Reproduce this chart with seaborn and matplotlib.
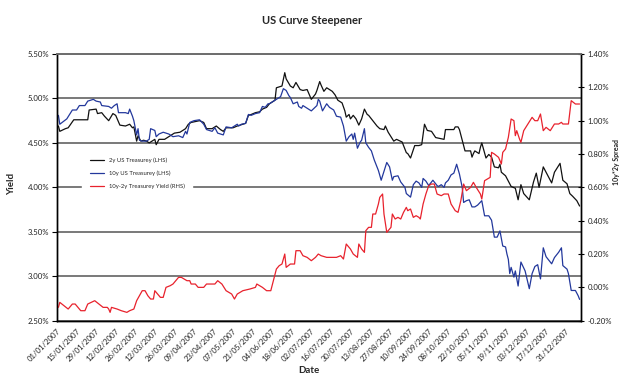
import pandas as pd
import matplotlib
matplotlib.use("Agg")
import matplotlib.pyplot as plt
import matplotlib.dates as mdates
from matplotlib.ticker import FuncFormatter, MultipleLocator
import seaborn as sns

START = pd.Timestamp("2007-01-01")

# 2y US Treasury yield (%), x = calendar days since 1 Jan 2007
days_2y = [1, 2, 6, 8, 12, 22, 23, 28, 29, 32, 34, 37, 40, 42, 45, 49, 52, 54, 55, 57,
           58, 60, 62, 64, 66, 68, 70, 71, 73, 77, 81, 84, 88, 92, 94, 96, 102, 105, 107, 111,
           114, 117, 119, 121, 124, 126, 129, 131, 135, 137, 139, 142, 145, 147, 150, 152, 155, 156, 157, 161,
           163, 164, 167, 169, 171, 174, 176, 179, 182, 185, 186, 188, 189, 191, 193, 197, 199, 201, 204, 206,
           207, 209, 210, 212, 214, 216, 218, 220, 222, 223, 225, 227, 229, 231, 234, 235, 237, 241, 243, 247,
           250, 251, 253, 256, 259, 261, 263, 265, 268, 271, 274, 277, 278, 284, 285, 287, 288, 290, 292, 294,
           296, 297, 298, 299, 302, 303, 304, 307, 309, 311, 313, 316, 317, 318, 321, 323, 325, 328, 330, 332,
           334, 338, 341, 343, 345, 348, 350, 354, 356, 360, 362, 365, 367, 369, 372, 374]
yield_2y = [4.69, 4.63, 4.66, 4.67, 4.76, 4.76, 4.87, 4.88, 4.83, 4.84, 4.80, 4.75, 4.83, 4.81, 4.70, 4.69, 4.71, 4.67, 4.68, 4.52,
            4.58, 4.52, 4.53, 4.52, 4.50, 4.52, 4.54, 4.48, 4.54, 4.54, 4.58, 4.61, 4.62, 4.66, 4.71, 4.73, 4.75, 4.73, 4.66, 4.66,
            4.69, 4.65, 4.63, 4.67, 4.67, 4.67, 4.69, 4.70, 4.72, 4.81, 4.82, 4.84, 4.85, 4.88, 4.90, 4.94, 4.97, 4.98, 5.12, 5.14,
            5.29, 5.22, 5.14, 5.12, 5.18, 5.10, 5.09, 5.10, 4.99, 5.05, 5.09, 5.19, 5.15, 5.08, 5.12, 5.08, 5.04, 4.98, 4.95, 4.86,
            4.79, 4.82, 4.77, 4.81, 4.77, 4.70, 4.77, 4.88, 4.82, 4.81, 4.77, 4.73, 4.69, 4.66, 4.65, 4.69, 4.62, 4.52, 4.54, 4.51,
            4.39, 4.38, 4.33, 4.47, 4.47, 4.48, 4.71, 4.64, 4.63, 4.56, 4.55, 4.54, 4.65, 4.65, 4.68, 4.68, 4.65, 4.53, 4.41, 4.41,
            4.41, 4.34, 4.38, 4.41, 4.38, 4.45, 4.50, 4.33, 4.37, 4.34, 4.23, 4.22, 4.26, 4.17, 4.13, 4.07, 4.01, 3.99, 3.86, 4.03,
            3.93, 3.86, 4.06, 4.16, 4.00, 4.23, 4.17, 4.05, 4.17, 4.27, 4.08, 4.04, 3.93, 3.90, 3.85, 3.79]

# 10y US Treasury yield (%)
days_10y = [1, 2, 7, 11, 14, 16, 20, 22, 26, 28, 31, 32, 37, 39, 41, 43, 44, 49, 51, 52,
            54, 55, 57, 58, 59, 61, 64, 66, 67, 70, 71, 73, 76, 80, 83, 87, 90, 92, 93, 95,
            98, 102, 105, 107, 111, 113, 115, 119, 121, 125, 129, 130, 132, 135, 137, 139, 142, 145, 147, 149,
            151, 152, 156, 160, 162, 164, 166, 167, 169, 172, 173, 175, 176, 179, 182, 186, 187, 188, 190, 193,
            195, 198, 200, 203, 205, 207, 209, 211, 212, 213, 215, 217, 218, 220, 221, 223, 225, 227, 230, 232,
            235, 236, 238, 240, 241, 244, 246, 249, 250, 253, 255, 257, 259, 261, 262, 264, 266, 268, 269, 272,
            273, 275, 277, 278, 280, 282, 284, 286, 288, 290, 291, 293, 295, 297, 299, 301, 304, 306, 309, 311,
            313, 315, 317, 319, 321, 322, 323, 324, 325, 327, 328, 330, 332, 335, 338, 340, 342, 344, 346, 348,
            350, 352, 354, 356, 359, 361, 362, 365, 366, 368, 371, 373, 374]
yield_10y = [4.81, 4.71, 4.77, 4.87, 4.87, 4.92, 4.92, 4.97, 4.99, 4.97, 4.96, 4.92, 4.91, 4.89, 4.92, 4.94, 4.84, 4.84, 4.83, 4.88,
             4.80, 4.75, 4.59, 4.66, 4.53, 4.52, 4.52, 4.54, 4.66, 4.64, 4.57, 4.60, 4.62, 4.60, 4.57, 4.58, 4.56, 4.63, 4.60, 4.73,
             4.75, 4.76, 4.71, 4.65, 4.63, 4.67, 4.61, 4.59, 4.68, 4.67, 4.71, 4.69, 4.71, 4.72, 4.82, 4.81, 4.83, 4.84, 4.91, 4.90,
             4.94, 4.94, 4.98, 5.02, 5.11, 5.09, 5.03, 5.01, 4.94, 4.96, 4.91, 4.89, 4.92, 4.89, 4.86, 4.92, 4.99, 4.97, 4.86, 4.94,
             4.90, 4.87, 4.80, 4.79, 4.69, 4.52, 4.57, 4.60, 4.54, 4.61, 4.44, 4.51, 4.53, 4.66, 4.50, 4.45, 4.41, 4.31, 4.19, 4.08,
             4.23, 4.28, 4.23, 4.08, 4.12, 4.13, 4.06, 4.00, 3.93, 3.89, 4.03, 4.07, 4.05, 4.00, 4.10, 4.07, 4.02, 4.06, 4.08, 4.02,
             4.01, 4.03, 4.00, 4.05, 4.08, 4.14, 4.16, 4.26, 4.15, 4.00, 3.83, 3.85, 3.86, 3.78, 3.78, 3.80, 3.85, 3.68, 3.68, 3.63,
             3.44, 3.44, 3.51, 3.34, 3.33, 3.25, 3.19, 3.03, 3.10, 2.99, 3.06, 2.89, 3.16, 3.06, 2.86, 3.03, 3.11, 3.13, 2.97, 3.32,
             3.22, 3.18, 3.14, 3.21, 3.27, 3.32, 3.12, 3.08, 3.03, 2.84, 2.84, 2.78, 2.74]

# 10y-2y spread (%), right-hand scale
days_spread = [1, 2, 5, 8, 11, 13, 17, 20, 22, 27, 30, 33, 36, 37, 38, 39, 43, 46, 50, 52,
               55, 57, 61, 63, 65, 67, 69, 70, 72, 74, 76, 78, 81, 83, 87, 89, 93, 95, 96, 99,
               101, 105, 107, 110, 113, 115, 118, 121, 125, 127, 129, 133, 138, 142, 143, 147, 150, 153, 157, 159,
               161, 163, 164, 167, 170, 171, 174, 176, 179, 182, 185, 187, 189, 193, 195, 198, 200, 203, 205, 207,
               210, 212, 215, 216, 218, 220, 221, 223, 225, 226, 228, 230, 231, 233, 234, 236, 237, 239, 240, 242,
               244, 246, 248, 250, 251, 253, 255, 257, 259, 260, 262, 264, 266, 268, 270, 272, 275, 277, 279, 280,
               282, 285, 287, 289, 291, 293, 296, 298, 300, 303, 304, 306, 308, 310, 311, 313, 316, 318, 319, 321,
               323, 325, 327, 328, 329, 331, 332, 334, 337, 340, 342, 344, 346, 348, 350, 353, 356, 359, 361, 362,
               365, 366, 368, 371, 373, 374]
spread = [-0.12, -0.09, -0.11, -0.13, -0.10, -0.10, -0.14, -0.14, -0.10, -0.08, -0.10, -0.12, -0.12, -0.13, -0.15, -0.12, -0.13, -0.14, -0.15, -0.14,
          -0.13, -0.08, -0.02, -0.02, -0.05, -0.07, -0.07, -0.02, -0.04, -0.06, -0.06, 0.00, 0.01, 0.02, 0.06, 0.06, 0.04, 0.04, 0.02, 0.02,
          0.00, 0.00, 0.02, 0.02, 0.02, 0.04, 0.02, -0.02, -0.04, -0.07, -0.04, -0.02, -0.01, 0.00, 0.02, 0.00, -0.02, -0.02, 0.11, 0.13,
          0.14, 0.20, 0.12, 0.14, 0.14, 0.22, 0.22, 0.19, 0.18, 0.16, 0.18, 0.20, 0.19, 0.18, 0.18, 0.18, 0.18, 0.19, 0.17, 0.26,
          0.23, 0.20, 0.18, 0.26, 0.23, 0.21, 0.34, 0.36, 0.36, 0.44, 0.44, 0.50, 0.54, 0.56, 0.44, 0.33, 0.34, 0.36, 0.44, 0.41,
          0.42, 0.41, 0.45, 0.48, 0.46, 0.47, 0.42, 0.43, 0.42, 0.41, 0.50, 0.56, 0.61, 0.62, 0.62, 0.56, 0.55, 0.56, 0.56, 0.56,
          0.50, 0.46, 0.45, 0.52, 0.62, 0.58, 0.60, 0.63, 0.60, 0.56, 0.53, 0.64, 0.65, 0.66, 0.81, 0.80, 0.78, 0.74, 0.81, 0.83,
          0.90, 1.01, 1.00, 0.91, 0.94, 0.89, 0.87, 0.94, 0.98, 1.02, 1.00, 1.00, 1.04, 0.94, 0.96, 0.94, 0.98, 0.98, 0.99, 0.98,
          0.98, 0.98, 1.12, 1.10, 1.10, 1.10]

to_dates = lambda d: START + pd.to_timedelta(d, unit="D")

BLACK, BLUE, RED = "#111111", "#23389c", "#e8222d"
GRID = "#6e6e6e"

sns.set_style("white")
plt.rcParams["font.family"] = ["Lato", "DejaVu Sans"]

fig = plt.figure(figsize=(6.25, 3.74), dpi=100)
ax = fig.add_axes([57 / 625, 1 - 320.7 / 374, (581 - 57) / 625, (320.7 - 54) / 374])
ax2 = ax.twinx()

sns.lineplot(x=to_dates(days_2y), y=yield_2y, ax=ax, color=BLACK, lw=0.9,
             label="2y US Treasurey (LHS)", legend=False)
sns.lineplot(x=to_dates(days_10y), y=yield_10y, ax=ax, color=BLUE, lw=0.9,
             label="10y US Treasurey (LHS)", legend=False)
sns.lineplot(x=to_dates(days_spread), y=spread, ax=ax2, color=RED, lw=0.9,
             label="10y-2y Treasurey Yield (RHS)", legend=False)

# left scale
ax.set_ylim(2.5, 5.5)
ax.yaxis.set_major_locator(MultipleLocator(0.5))
ax.yaxis.set_major_formatter(FuncFormatter(lambda v, _: f"{v:.2f}%"))
ax.grid(axis="y", color=GRID, lw=1.3)
ax.grid(axis="x", visible=False)

# right scale
ax2.set_ylim(-0.2, 1.4)
ax2.yaxis.set_major_locator(MultipleLocator(0.2))
ax2.yaxis.set_major_formatter(FuncFormatter(lambda v, _: f"{v:.2f}%"))
ax2.grid(False)

# date axis, ticks every two weeks
ax.set_xlim(START, pd.Timestamp("2008-01-11"))
ticks = pd.date_range("2007-01-01", "2007-12-31", freq="14D")
ax.set_xticks(ticks)
ax.xaxis.set_major_formatter(mdates.DateFormatter("%d/%m/%Y"))
for lab in ax.get_xticklabels():
    lab.set_rotation(45)
    lab.set_ha("right")
    lab.set_rotation_mode("anchor")

ax.tick_params(axis="x", direction="out", length=3.5, width=0.8, color="black",
               labelsize=5.6, pad=1.5, labelcolor="#222222")
ax.tick_params(axis="y", direction="out", length=3.5, width=0.8, color="black",
               labelsize=5.6, pad=2, labelcolor="#222222", left=True)
ax2.tick_params(axis="y", direction="inout", length=5, width=0.8, color="black",
                labelsize=5.6, pad=2, labelcolor="#222222", right=True)

for a in (ax, ax2):
    for side in ("left", "right", "bottom"):
        a.spines[side].set_visible(True)
        a.spines[side].set_color("black")
        a.spines[side].set_linewidth(1.0)
    a.spines["top"].set_color(GRID)
    a.spines["top"].set_linewidth(1.3)
    a.set_xlabel("")
    a.set_ylabel("")

h1, l1 = ax.get_legend_handles_labels()
h2, l2 = ax2.get_legend_handles_labels()
leg = ax2.legend(h1 + h2, l1 + l2, loc="center left",
                 bbox_to_anchor=(82 / 625, 1 - 173 / 374), bbox_transform=fig.transFigure,
                 fontsize=4.2, frameon=True, framealpha=1, facecolor="white", edgecolor="white",
                 handlelength=2.4, handletextpad=0.9, labelspacing=1.25, borderpad=1.3,
                 borderaxespad=0)
for line in leg.get_lines():
    line.set_linewidth(0.9)

fig.text(312 / 625, 1 - 20 / 374, "US Curve Steepener", ha="center", va="center",
         fontsize=8, fontweight="bold")
fig.text(12 / 625, 1 - 184 / 374, "Yield", ha="center", va="center", rotation=90,
         fontsize=7, fontweight="bold")
fig.text(617 / 625, 1 - 162 / 374, "10y*2y Spread", ha="center", va="center", rotation=90,
         fontsize=5, fontweight="bold")
fig.text(309 / 625, 1 - 366 / 374, "Date", ha="center", va="top",
         fontsize=7, fontweight="bold")

fig.savefig("out.png", dpi=100)
